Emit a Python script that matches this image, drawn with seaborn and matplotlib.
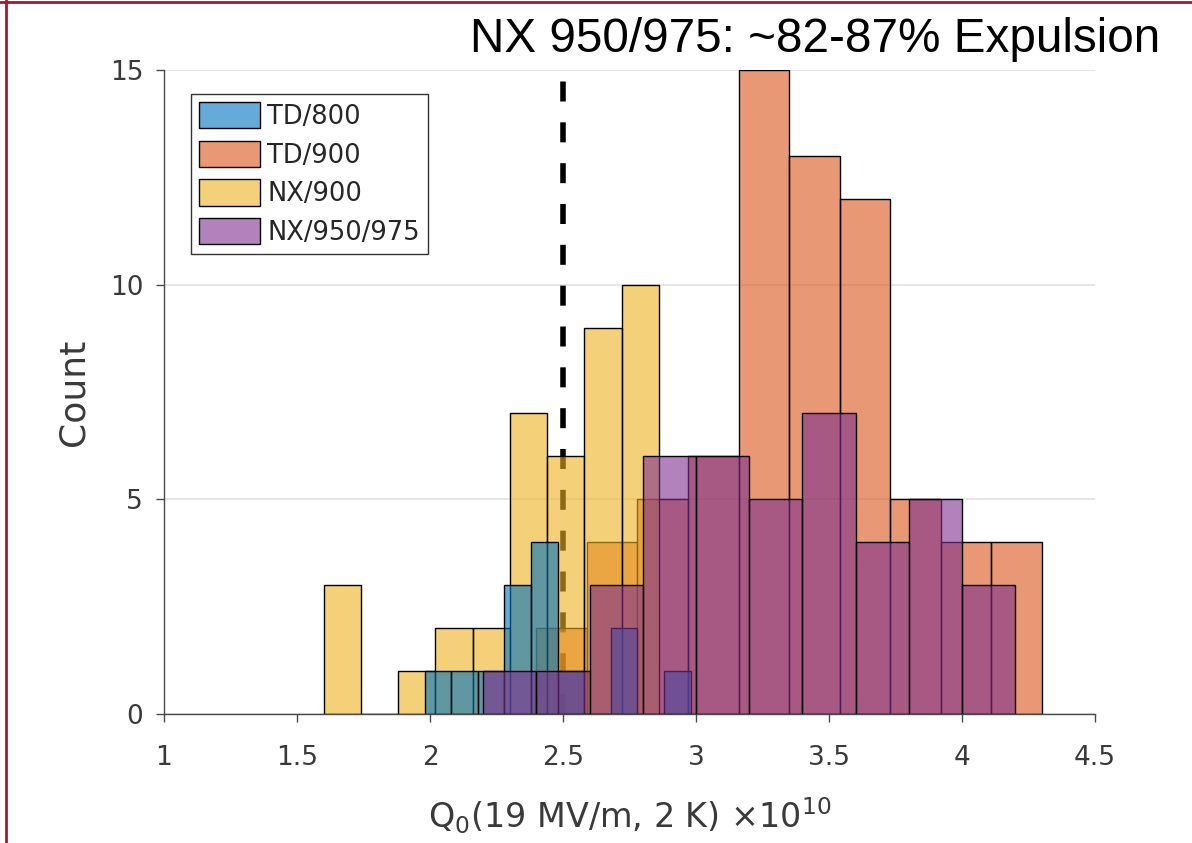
import matplotlib
matplotlib.use("Agg")
import numpy as np
import matplotlib.pyplot as plt
from matplotlib.patches import Patch
from matplotlib.lines import Line2D
import seaborn as sns

# Q0 distributions (units of 1e10), one histogram per treatment group
td800_edges = [1.98, 2.08, 2.18, 2.28, 2.38, 2.48, 2.58, 2.68, 2.78, 2.88, 2.98]
td800_counts = [1, 1, 1, 3, 4, 1, 0, 2, 0, 1]

td900_edges = [2.40, 2.59, 2.78, 2.97, 3.16, 3.35, 3.54, 3.73, 3.92, 4.11, 4.30]
td900_counts = [2, 4, 5, 6, 15, 13, 12, 5, 4, 4]

nx900_edges = [1.60, 1.74, 1.88, 2.02, 2.16, 2.30, 2.44, 2.58, 2.72, 2.86]
nx900_counts = [3, 0, 1, 2, 2, 7, 6, 9, 10]

nx950_edges = [2.2, 2.4, 2.6, 2.8, 3.0, 3.2, 3.4, 3.6, 3.8, 4.0, 4.2]
nx950_counts = [1, 1, 3, 6, 6, 5, 7, 4, 5, 3]

group_labels = ["TD/800", "TD/900", "NX/900", "NX/950/975"]
threshold_q0 = 2.5
x_ticks = [1, 1.5, 2, 2.5, 3, 3.5, 4, 4.5]
x_tick_labels = ["1", "1.5", "2", "2.5", "3", "3.5", "4", "4.5"]
y_ticks = [0, 5, 10, 15]
headline = "NX 950/975: ~82-87% Expulsion"

# MATLAB-like default colour order
group_colors = {
    "TD/800": (0.0, 0.4470, 0.7410),
    "TD/900": (0.8500, 0.3250, 0.0980),
    "NX/900": (0.9290, 0.6940, 0.1250),
    "NX/950/975": (0.4940, 0.1840, 0.5560),
}
face_alpha = 0.6

sns.set_style("ticks")
plt.rcParams["font.family"] = ["DejaVu Sans"]
plt.rcParams["mathtext.fontset"] = "dejavusans"

fig = plt.figure(figsize=(11.92, 8.43), dpi=100)
ax = fig.add_axes([164 / 1192, 1 - 714 / 843, (1095 - 164) / 1192, (714 - 70) / 843])

series = {
    "TD/800": (td800_edges, td800_counts),
    "TD/900": (td900_edges, td900_counts),
    "NX/900": (nx900_edges, nx900_counts),
    "NX/950/975": (nx950_edges, nx950_counts),
}
# layering of the overlapping histograms (bottom to top)
draw_order = ["TD/900", "NX/900", "TD/800", "NX/950/975"]
for z, name in enumerate(draw_order):
    edges, counts = series[name]
    e = np.asarray(edges, dtype=float)
    centers = list((e[:-1] + e[1:]) / 2)
    sns.histplot(x=centers, weights=list(counts), bins=list(edges), ax=ax,
                 color=group_colors[name], alpha=face_alpha,
                 edgecolor="black", linewidth=1.0, zorder=2 + z)

# dashed reference line, drawn beneath the bars
thr, = ax.plot([threshold_q0, threshold_q0], [0, 15], color="black",
               lw=4, zorder=1, solid_capstyle="butt", dash_capstyle="butt")
thr.set_dashes([3.6, 3.75])

ax.set_xlim(1, 4.5)
ax.set_ylim(0, 15)
ax.set_xticks(x_ticks)
ax.set_xticklabels(x_tick_labels)
ax.set_yticks(y_ticks)
ax.yaxis.grid(True, color="#e2e2e2", lw=1.2)
ax.xaxis.grid(False)
ax.set_axisbelow(True)

for side in ["top", "right"]:
    ax.spines[side].set_visible(False)
for side in ["left", "bottom"]:
    ax.spines[side].set_color("#4a4a4a")
    ax.spines[side].set_linewidth(1.0)

ax.tick_params(axis="both", direction="out", length=6, width=1.0,
               color="#4a4a4a", labelcolor="#3a3a3a", labelsize=19)
ax.tick_params(axis="x", pad=16)
ax.tick_params(axis="y", pad=9)

ax.set_ylabel("Count", fontsize=26, color="#3a3a3a", labelpad=14)
ax.set_xlabel(r"Q$_0$(19 MV/m, 2 K) $\times10^{10}$", fontsize=24,
              color="#3a3a3a", labelpad=18)

handles = [Patch(facecolor=(*group_colors[n], face_alpha), edgecolor="black",
                 linewidth=1.0) for n in group_labels]
leg = ax.legend(handles, group_labels, loc="upper left",
                bbox_to_anchor=(0.029, 0.963), borderaxespad=0,
                fontsize=18.5, frameon=True, fancybox=False,
                handlelength=2.35, handleheight=1.2, handletextpad=0.3,
                labelspacing=0.42, borderpad=0.32)
leg.get_frame().set_edgecolor("#333333")
leg.get_frame().set_linewidth(1.0)
leg.get_frame().set_alpha(1)
leg.set_zorder(10)

fig.text(1160 / 1192, 1 - 52 / 843, headline, ha="right", va="baseline",
         fontsize=34.3, family="Liberation Sans", color="black")

# slide frame lines
frame_color = "#a3192f"
fig.add_artist(Line2D([0, 1], [1 - 2 / 843, 1 - 2 / 843],
                      transform=fig.transFigure, color=frame_color, lw=2))
fig.add_artist(Line2D([6 / 1192, 6 / 1192], [0, 1],
                      transform=fig.transFigure, color=frame_color, lw=2))

fig.savefig("out.png", dpi=100)
